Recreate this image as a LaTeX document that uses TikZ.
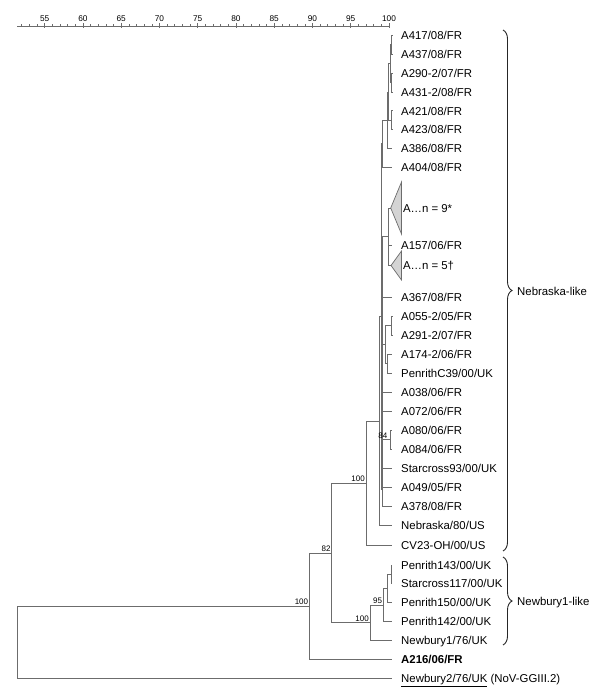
\documentclass[tikz,border=0pt]{standalone}
\usepackage{fontspec}
\setmainfont{Liberation Sans}
\usetikzlibrary{decorations.pathreplacing}
\definecolor{treeline}{RGB}{108,108,108}
\definecolor{trifill}{RGB}{212,212,212}
\begin{document}
\begin{tikzpicture}[x=1pt,y=-1pt,
  br/.style={draw=treeline, line width=0.9pt},
  lbl/.style={anchor=west, inner sep=0pt, text height=8.2pt, text depth=0pt, font=\fontsize{11.4}{13}\selectfont},
  bs/.style={anchor=south east, inner sep=0pt, font=\fontsize{8}{9}\selectfont},
  tri/.style={draw=treeline, fill=trifill, line width=0.7pt},
  brc/.style={decorate, decoration={brace, amplitude=9pt}, line width=0.9pt, draw=black!85},
  tickline/.style={draw=treeline, line width=0.6pt},
  rulelbl/.style={inner sep=0pt, font=\fontsize{8.3}{9}\selectfont}
]
\useasboundingbox (0,0) rectangle (600,693);

% ruler
\coordinate (rulA) at (17.3,26);
\coordinate (rulB) at (389,26);
\draw[tickline] (rulA) -- (rulB);
\foreach \v in {52,...,100}{
  \draw[tickline] ({389-(100-\v)*7.651},24.2) -- ++(0,3.2);
}
\foreach \v in {55,60,...,100}{
  \draw[tickline] ({389-(100-\v)*7.651},22.8) -- ++(0,5.6);
  \node[rulelbl] (r\v) at ({389-(100-\v)*7.651},18.3) {\v};
}

% leaves
\foreach \n/\y/\t in {
  l1/35.5/{A417/08/FR}, l2/54.3/{A437/08/FR}, l3/73.2/{A290-2/07/FR}, l4/92.0/{A431-2/08/FR},
  l5/110.9/{A421/08/FR}, l6/129.7/{A423/08/FR}, l7/148.6/{A386/08/FR}, l8/167.4/{A404/08/FR},
  l9/245.5/{A157/06/FR}, l10/297/{A367/08/FR}, l11/316/{A055-2/05/FR}, l12/335/{A291-2/07/FR},
  l13/354/{A174-2/06/FR}, l14/373/{PenrithC39/00/UK}, l15/392/{A038/06/FR}, l16/411/{A072/06/FR},
  l17/430/{A080/06/FR}, l18/449/{A084/06/FR}, l19/468/{Starcross93/00/UK}, l20/487.5/{A049/05/FR},
  l21/506.5/{A378/08/FR}, l22/525.7/{Nebraska/80/US}, l23/545/{CV23-OH/00/US},
  l24/565/{Penrith143/00/UK}, l25/583.5/{Starcross117/00/UK}, l26/602.5/{Penrith150/00/UK},
  l27/621.5/{Penrith142/00/UK}, l28/640/{Newbury1/76/UK}}{
  \coordinate (\n) at (392,\y);
  \node[lbl] (\n-t) at (401,\y) {\t};
}
\coordinate (l29) at (392,659);
\node[lbl] (l29-t) at (401,659) {\textbf{A216/06/FR}};
\coordinate (l30) at (392,678);
\node[lbl] (l30-t) at (401,678) {\underline{Newbury2/76/UK} (NoV-GGIII.2)};

% collapsed clades
\coordinate (t9) at (390.7,208);
\coordinate (t9u) at (401.5,182);
\coordinate (t9d) at (401.5,234);
\draw[tri] (t9) -- (t9u) -- (t9d) -- cycle;
\node[lbl] (t9-t) at (402.8,208) {A…n = 9*};
\coordinate (t5) at (391,265.5);
\coordinate (t5u) at (401.5,251);
\coordinate (t5d) at (401.5,280);
\draw[tri] (t5) -- (t5u) -- (t5d) -- cycle;
\node[lbl] (t5-t) at (402.8,265.5) {A…n = 5†};

% internal nodes
\coordinate (a) at (391.5,44.9);
\coordinate (b) at (391.5,82.6);
\coordinate (c) at (390,63.75);
\coordinate (d) at (391.5,120.3);
\coordinate (e) at (388.5,92);
\coordinate (f) at (387.3,120.3);
\coordinate (g) at (382.3,143.9);
\coordinate (nT) at (388,236);
\coordinate (nj) at (391.5,325.5);
\coordinate (nk) at (387.3,363.5);
\coordinate (nl) at (385,344.5);
\coordinate (n84) at (390,439.5);
\coordinate (P) at (382.6,489.5);
\coordinate (N2) at (381,316.7);
\coordinate (N1) at (379.6,421.7);
\coordinate (C100) at (366,483);
\coordinate (nps) at (391.3,574.25);
\coordinate (npp) at (387.3,588.4);
\coordinate (n95) at (383.3,605);
\coordinate (NB100) at (370,622.5);
\coordinate (n82) at (331.7,553);
\coordinate (R100) at (309.3,606);
\coordinate (root) at (17.3,642);

% branches
\foreach \p/\c in {a/l1,a/l2,b/l3,b/l4,c/a,c/b,d/l5,d/l6,e/c,e/d,f/e,f/l7,g/f,g/l8,
  nT/t9,nT/l9,nT/t5,nj/l11,nj/l12,nk/l13,nk/l14,nl/nj,nl/nk,n84/l17,n84/l18,
  P/nT,P/l10,P/nl,P/l15,P/l16,P/n84,P/l19,P/l20,P/l21,
  N2/g,N2/P,N1/N2,N1/l22,C100/N1,C100/l23,
  nps/l24,nps/l25,npp/nps,npp/l26,n95/npp,n95/l27,NB100/n95,NB100/l28,
  n82/C100,n82/NB100,R100/n82,R100/l29,root/R100,root/l30}{
  \draw[br] (\p) |- (\c);
}

% bootstrap values
\node[bs] (bR100) at ([xshift=-1pt,yshift=1pt]R100) {100};
\node[bs] (b82) at ([xshift=-1pt,yshift=1pt]n82) {82};
\node[bs] (bC100) at ([xshift=-1pt,yshift=1pt]C100) {100};
\node[bs] (bNB100) at ([xshift=-1pt,yshift=1pt]NB100) {100};
\node[bs] (b95) at ([xshift=-1pt,yshift=1pt]n95) {95};
\node[bs] (b84) at ([xshift=-2.5pt,yshift=1pt]n84) {84};

% braces
\coordinate (nbTop) at (503,30);
\coordinate (nbBot) at (503,551);
\draw[brc] (nbTop) -- (nbBot);
\node[lbl] (nbL) at (517,291) {Nebraska-like};
\coordinate (n1Top) at (503,557);
\coordinate (n1Bot) at (503,645);
\draw[brc] (n1Top) -- (n1Bot);
\node[lbl] (n1L) at (517,601) {Newbury1-like};
\end{tikzpicture}
\end{document}
